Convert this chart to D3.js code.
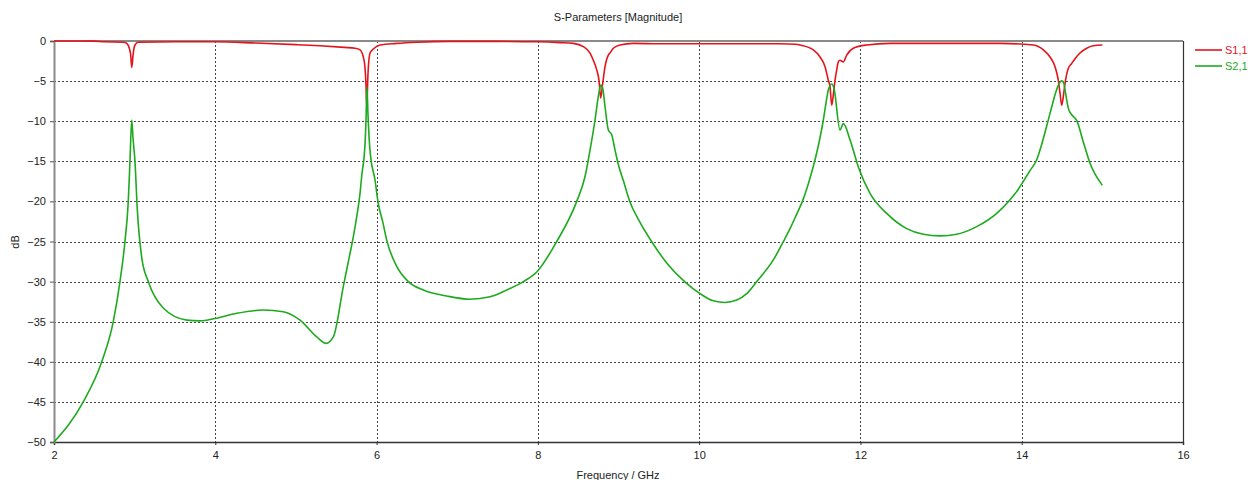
<!DOCTYPE html>
<html>
<head>
<meta charset="utf-8">
<script src="https://cdn.jsdelivr.net/npm/d3@7"></script>
<style>
  html, body { margin: 0; padding: 0; background: #fff; }
  svg { display: block; }
  text { font-family: "Liberation Sans", Arial, sans-serif; }
</style>
</head>
<body>
<svg id="chart" width="1252" height="480"></svg>
<script>
// S1,1 reflection magnitude (dB) vs frequency (GHz)
const freqS11 = [2.0, 2.5, 2.62, 2.868, 2.902, 2.934, 2.951, 2.964, 2.983, 3.004, 3.045, 3.5, 4.0, 4.5, 5.0, 5.3, 5.6, 5.733, 5.795, 5.836, 5.857, 5.869, 5.878, 5.894, 5.919, 5.96, 6.043, 6.25, 6.5, 6.9, 7.5, 8.0, 8.275, 8.44, 8.564, 8.647, 8.688, 8.73, 8.758, 8.779, 8.804, 8.833, 8.874, 8.895, 8.936, 9.019, 9.184, 9.5, 10.0, 10.5, 11.0, 11.201, 11.251, 11.416, 11.499, 11.561, 11.602, 11.623, 11.644, 11.664, 11.685, 11.706, 11.726, 11.747, 11.788, 11.83, 11.912, 12.078, 12.367, 13.0, 13.731, 14.144, 14.268, 14.351, 14.413, 14.454, 14.475, 14.496, 14.516, 14.537, 14.578, 14.62, 14.661, 14.723, 14.806, 14.888, 15.0];
const s11 = [0, -0.02, -0.1, -0.15, -0.3, -0.9, -1.75, -3.3, -1.5, -0.5, -0.15, -0.1, -0.1, -0.25, -0.45, -0.6, -0.8, -0.9, -1.1, -2.0, -3.4, -5.5, -8.2, -4.0, -1.5, -1.0, -0.5, -0.3, -0.15, -0.05, -0.05, -0.1, -0.2, -0.3, -0.7, -1.5, -2.4, -3.6, -4.9, -7.1, -5.3, -3.2, -1.75, -1.5, -0.9, -0.5, -0.3, -0.35, -0.35, -0.35, -0.35, -0.4, -0.5, -1.1, -2.0, -3.2, -4.9, -5.7, -8.0, -6.7, -4.9, -3.6, -2.6, -2.4, -2.6, -1.75, -0.9, -0.5, -0.3, -0.3, -0.3, -0.5, -1.1, -2.0, -3.2, -4.9, -6.5, -8.0, -6.9, -5.3, -3.4, -2.8, -2.2, -1.5, -0.9, -0.6, -0.5];

// S2,1 transmission magnitude (dB) vs frequency (GHz)
const freqS21 = [2.0, 2.363, 2.592, 2.735, 2.818, 2.88, 2.921, 2.942, 2.964, 2.979, 3.004, 3.033, 3.088, 3.169, 3.355, 3.646, 3.811, 3.997, 4.266, 4.596, 4.843, 5.051, 5.258, 5.373, 5.464, 5.588, 5.65, 5.712, 5.754, 5.795, 5.815, 5.857, 5.87, 5.88, 5.895, 5.91, 5.925, 5.98, 6.02, 6.08, 6.125, 6.25, 6.394, 6.58, 6.87, 7.159, 7.407, 7.614, 7.82, 7.986, 8.234, 8.482, 8.585, 8.647, 8.709, 8.75, 8.78, 8.804, 8.833, 8.874, 8.916, 8.957, 8.998, 9.06, 9.14, 9.26, 9.41, 9.6, 9.82, 10.011, 10.176, 10.321, 10.466, 10.59, 10.714, 10.92, 11.045, 11.127, 11.2, 11.28, 11.36, 11.437, 11.49, 11.54, 11.58, 11.602, 11.644, 11.672, 11.747, 11.788, 11.871, 11.974, 12.119, 12.326, 12.574, 12.78, 12.987, 13.194, 13.442, 13.69, 13.855, 13.95, 14.02, 14.1, 14.186, 14.25, 14.31, 14.37, 14.413, 14.455, 14.496, 14.52, 14.537, 14.578, 14.62, 14.682, 14.764, 14.847, 15.0];
const s21 = [-50, -45, -40, -35, -30, -25, -20, -15, -9.85, -12, -15, -21, -27, -30, -33.3, -34.8, -34.9, -34.6, -33.95, -33.55, -33.75, -34.8, -36.9, -37.7, -36.9, -30.6, -27.5, -24.4, -21.9, -19, -16.9, -12.8, -9.5, -5.7, -9.5, -12.5, -14.3, -17.3, -20.2, -22.7, -24.8, -28.1, -30, -31.05, -31.8, -32.2, -31.9, -31.05, -30, -28.8, -25, -20, -16.9, -13.6, -9.85, -6.9, -5.5, -5.9, -8.2, -11.1, -11.7, -13.6, -15.4, -17.4, -20, -22.5, -25, -27.7, -30, -31.5, -32.4, -32.6, -32.3, -31.5, -30, -27.3, -25, -23.4, -21.8, -20, -17.6, -14.8, -12.5, -9.85, -7.3, -6.1, -5.36, -5.9, -11.1, -10.3, -12.3, -15.7, -19, -21.5, -23.4, -24.1, -24.3, -24.1, -23.15, -21.5, -19.8, -18.6, -17.5, -16.2, -14.8, -12.8, -10.6, -8.3, -6.7, -5.5, -4.95, -5.2, -6.1, -8.4, -9.2, -9.9, -12.6, -15.25, -18];

// Axis ticks
const xTicks = [2, 4, 6, 8, 10, 12, 14, 16];
const yTicks = [0, -5, -10, -15, -20, -25, -30, -35, -40, -45, -50];

const seriesNames = ["S1,1", "S2,1"];
const seriesColors = ["#e3141c", "#1eaa1e"];

const svg = d3.select("#chart");
const plot = { left: 54, right: 1183, top: 41, bottom: 442 };

const x = d3.scaleLinear().domain([2, 16]).range([plot.left, plot.right]);
const y = d3.scaleLinear().domain([-50, 0]).range([plot.bottom, plot.top]);

// Dotted grid
const grid = svg.append("g").attr("stroke", "#444").attr("stroke-width", 1).attr("stroke-dasharray", "2,2");
grid.selectAll("line.v").data(xTicks.filter(t => t > 2 && t < 16)).join("line")
  .attr("x1", d => Math.round(x(d)) + 0.5).attr("x2", d => Math.round(x(d)) + 0.5)
  .attr("y1", plot.top).attr("y2", plot.bottom);
grid.selectAll("line.h").data(yTicks.filter(t => t < 0 && t > -50)).join("line")
  .attr("x1", plot.left).attr("x2", plot.right)
  .attr("y1", d => Math.round(y(d)) + 0.5).attr("y2", d => Math.round(y(d)) + 0.5);

// Frame
svg.append("line").attr("x1", plot.left).attr("x2", plot.right).attr("y1", plot.top).attr("y2", plot.top)
  .attr("stroke", "#8a8a8a").attr("stroke-width", 2);
svg.append("line").attr("x1", plot.right + 0.5).attr("x2", plot.right + 0.5).attr("y1", plot.top).attr("y2", plot.bottom)
  .attr("stroke", "#333").attr("stroke-width", 1.2);

// Axes
const xAxis = d3.axisBottom(x).tickValues(xTicks).tickFormat(d3.format("d")).tickSize(3).tickPadding(6);
const gx = svg.append("g").attr("transform", `translate(0,${plot.bottom})`).call(xAxis);
gx.select(".domain").attr("stroke", "#333").attr("stroke-width", 1.5);
gx.selectAll(".tick line").attr("stroke", "#333");
gx.selectAll(".tick text").attr("fill", "#222").attr("font-size", 11).attr("font-family", "Liberation Sans, Arial, sans-serif");

const yAxis = d3.axisLeft(y).tickValues(yTicks).tickFormat(d3.format("d")).tickSize(4).tickPadding(4);
const gy = svg.append("g").attr("transform", `translate(${plot.left},0)`).call(yAxis);
gy.select(".domain").attr("stroke", "#8a8a8a").attr("stroke-width", 2);
gy.selectAll(".tick line").attr("stroke", "#555");
gy.selectAll(".tick text").attr("fill", "#222").attr("font-size", 11).attr("font-family", "Liberation Sans, Arial, sans-serif");

// Curves
const line = d3.line().x(d => x(d[0])).y(d => y(d[1])).curve(d3.curveMonotoneX);
const s11Data = freqS11.map((f, i) => [f, s11[i]]);
const s21Data = freqS21.map((f, i) => [f, s21[i]]);
[s11Data, s21Data].forEach((data, i) => {
  svg.append("path").datum(data).attr("d", line)
    .attr("fill", "none").attr("stroke", seriesColors[i]).attr("stroke-width", 1.6)
    .attr("stroke-linejoin", "round");
});

// Titles
svg.append("text").attr("x", 618).attr("y", 21).attr("text-anchor", "middle")
  .attr("font-size", 11).attr("fill", "#222").text("S-Parameters [Magnitude]");
svg.append("text").attr("x", 618).attr("y", 479).attr("text-anchor", "middle")
  .attr("font-size", 11).attr("fill", "#222").text("Frequency / GHz");
svg.append("text").attr("transform", "translate(19,242) rotate(-90)").attr("text-anchor", "middle")
  .attr("font-size", 11).attr("fill", "#222").text("dB");

// Legend
const legend = svg.append("g");
seriesNames.forEach((name, i) => {
  const ly = 50 + i * 16;
  legend.append("line").attr("x1", 1195).attr("x2", 1222).attr("y1", ly).attr("y2", ly)
    .attr("stroke", seriesColors[i]).attr("stroke-width", 1.6);
  legend.append("text").attr("x", 1225).attr("y", ly + 4).attr("font-size", 11)
    .attr("fill", seriesColors[i]).text(name);
});
</script>
</body>
</html>
